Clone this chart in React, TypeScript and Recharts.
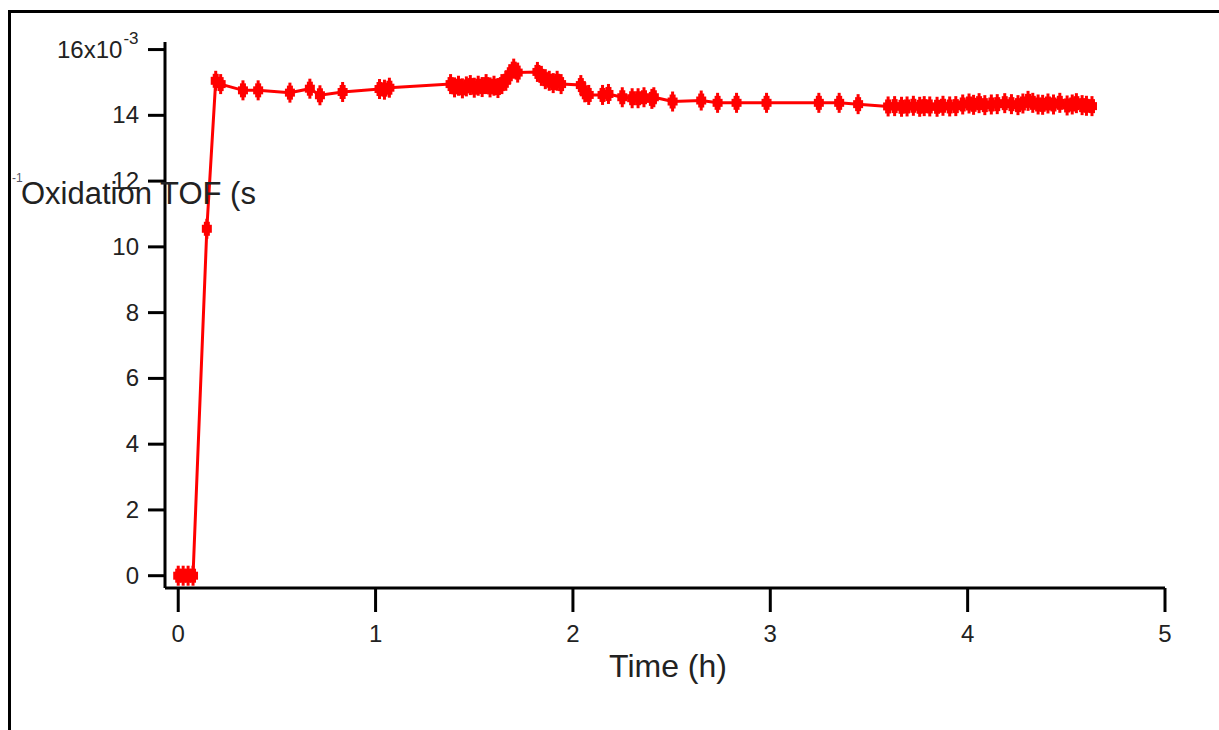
import { LineChart, Line, XAxis, YAxis } from 'recharts';

// time in hours
const hours = [
  0, 0.025, 0.05, 0.075, 0.145, 0.19, 0.215, 0.328, 0.405, 0.566, 0.667, 0.718, 0.833,
  1.02, 1.045, 1.07, 1.38, 1.4, 1.42, 1.44, 1.46, 1.48, 1.5, 1.52, 1.54, 1.56, 1.58, 1.6,
  1.62, 1.64, 1.66, 1.68, 1.7, 1.72, 1.82, 1.84, 1.86, 1.88, 1.9, 1.92, 1.94, 2.04, 2.06,
  2.08, 2.15, 2.18, 2.25, 2.3, 2.33, 2.36, 2.4, 2.41, 2.505, 2.65, 2.733, 2.829, 2.981,
  3.246, 3.349, 3.445, 3.597, 3.63, 3.665, 3.693, 3.725, 3.757, 3.78, 3.808, 3.845, 3.875,
  3.909, 3.94, 3.975, 4.007, 4.03, 4.058, 4.087, 4.12, 4.15, 4.188, 4.222, 4.255, 4.28,
  4.306, 4.33, 4.357, 4.38, 4.407, 4.435, 4.467, 4.504, 4.53, 4.551, 4.58, 4.602, 4.63,
];

// oxidation TOF, x10^-3 s^-1
const tof = [
  0, 0, 0, 0, 10.55, 15.05, 14.95, 14.76, 14.76, 14.69, 14.81, 14.61, 14.71,
  14.8, 14.78, 14.84, 14.95, 14.85, 14.9, 14.82, 14.88, 14.92, 14.84, 14.9, 14.86, 14.95, 14.85, 14.9,
  14.83, 14.95, 15.05, 15.25, 15.42, 15.3, 15.32, 15.2, 15.1, 15.05, 14.98, 15.05, 14.95, 14.92, 14.7,
  14.62, 14.62, 14.65, 14.55, 14.52, 14.52, 14.55, 14.5, 14.55, 14.42, 14.45, 14.38, 14.38, 14.38,
  14.38, 14.38, 14.34, 14.27, 14.28, 14.26, 14.27, 14.29, 14.26, 14.28, 14.27, 14.26, 14.29,
  14.27, 14.28, 14.33, 14.36, 14.32, 14.37, 14.31, 14.33, 14.34, 14.37, 14.34, 14.31, 14.36,
  14.44, 14.38, 14.33, 14.32, 14.36, 14.33, 14.38, 14.3, 14.33, 14.37, 14.31, 14.29, 14.28,
];

const xTicks = [0, 1, 2, 3, 4, 5];
const yTicks = [0, 2, 4, 6, 8, 10, 12, 14, 16];

const data = hours.map((t, i) => ({ t, v: tof[i] }));

const FONT = '"Liberation Sans", Arial, sans-serif';
const TEXT = '#222';
const RED = '#ff0000';

function Marker(props: any) {
  const { cx, cy, index } = props;
  if (cx == null || cy == null) return <g key={index} />;
  return (
    <g key={index}>
      <rect x={cx - 1.5} y={cy - 10} width={3} height={20} fill={RED} />
      <rect x={cx - 5} y={cy - 4} width={10} height={8} fill={RED} />
      <rect x={cx - 3} y={cy - 7} width={6} height={14} fill={RED} />
    </g>
  );
}

function XTick(props: any) {
  const { x, payload } = props;
  return (
    <text x={x} y={642} textAnchor="middle" fontFamily={FONT} fontSize={24} fill={TEXT}>
      {payload.value}
    </text>
  );
}

function YTick(props: any) {
  const { y, payload } = props;
  if (payload.value === 16) {
    return (
      <text x={57} y={y + 8} fontFamily={FONT} fontSize={24} fill={TEXT}>
        16x10
        <tspan dx={1} dy={-14} fontSize={17}>-3</tspan>
      </text>
    );
  }
  return (
    <text x={139} y={y + 8} textAnchor="end" fontFamily={FONT} fontSize={24} fill={TEXT}>
      {payload.value}
    </text>
  );
}

export default function App() {
  return (
    <div style={{ position: 'absolute', left: 0, top: 0, width: 1219, height: 730, background: '#fff', overflow: 'hidden' }}>
      {/* frame */}
      <div style={{ position: 'absolute', left: 8, top: 10, width: 1211, height: 3, background: '#000' }} />
      <div style={{ position: 'absolute', left: 8, top: 10, width: 3, height: 720, background: '#000' }} />

      <LineChart
        width={1219}
        height={730}
        data={data}
        margin={{ top: 42, right: 54, bottom: 0, left: 0 }}
        style={{ position: 'absolute', left: 0, top: 0 }}
      >
        <XAxis
          dataKey="t"
          type="number"
          domain={[-0.067, 5]}
          ticks={xTicks}
          height={142}
          axisLine={{ stroke: '#000', strokeWidth: 3 }}
          tickLine={{ stroke: '#000', strokeWidth: 3 }}
          tickSize={24}
          tick={<XTick />}
          interval={0}
        />
        <YAxis
          type="number"
          domain={[-0.374, 16.23]}
          ticks={yTicks}
          width={165}
          axisLine={{ stroke: '#000', strokeWidth: 3 }}
          tickLine={{ stroke: '#000', strokeWidth: 3 }}
          tickSize={17}
          tick={<YTick />}
          interval={0}
          allowDataOverflow
        />
        <Line
          dataKey="v"
          type="linear"
          stroke={RED}
          strokeWidth={3}
          dot={(p: any) => <Marker {...p} key={p.index} />}
          activeDot={false}
          isAnimationActive={false}
        />
      </LineChart>

      <svg width={1219} height={730} style={{ position: 'absolute', left: 0, top: 0, pointerEvents: 'none' }}>
        <text x={668} y={677} textAnchor="middle" fontFamily={FONT} fontSize={32} fill={TEXT}>
          Time (h)
        </text>
        <text x={21} y={204} fontFamily={FONT} fontSize={31} fill={TEXT}>
          Oxidation TOF (s
        </text>
        <text x={12} y={182} fontFamily={FONT} fontSize={12} fill="#556">
          -1
        </text>
      </svg>
    </div>
  );
}
